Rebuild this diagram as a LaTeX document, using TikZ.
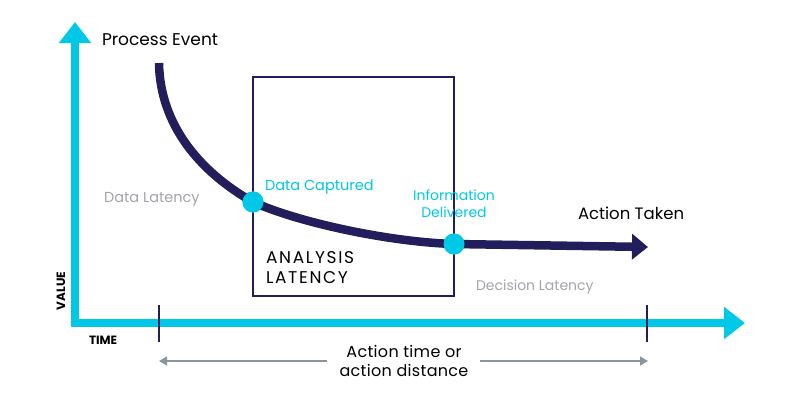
\documentclass[tikz,border=0pt]{standalone}
\usepackage{fontspec}
\setmainfont{Poppins}
\usetikzlibrary{arrows.meta}
\definecolor{cy}{HTML}{00C8E6}
\definecolor{navy}{HTML}{221E5B}
\definecolor{gtxt}{HTML}{A3A3AB}
\definecolor{garr}{HTML}{8A95A2}
\begin{document}
\begin{tikzpicture}[x=1pt,y=-1pt,
  lbl/.style={inner sep=0pt, outer sep=0pt},
  axis/.style={cy, line width=8pt, line join=miter},
  curve/.style={navy, line width=8.5pt},
  dot/.style={circle, fill=cy, minimum size=21pt, inner sep=0pt},
  tick/.style={navy, line width=1.2pt},
  garrow/.style={garr, line width=1.5pt, -{Triangle[length=8pt,width=9pt]}},
  boxline/.style={navy, line width=1.3pt}]
\useasboundingbox (0,0) rectangle (800,400);
% axes
\coordinate (ytop) at (75,22);
\coordinate (origin) at (75,323);
\coordinate (xend) at (745,323);
\draw[axis, {Triangle[length=21pt,width=31pt]}-{Triangle[length=21pt,width=31pt]}] (ytop) -- (origin) -- (xend);
% ticks
\coordinate (t1a) at (159,305); \coordinate (t1b) at (159,342);
\coordinate (t2a) at (647,305); \coordinate (t2b) at (647,342);
\draw[tick] (t1a) -- (t1b);
\draw[tick] (t2a) -- (t2b);
% box
\node[draw=navy, line width=1.3pt, minimum width=201pt, minimum height=219pt, inner sep=0pt] (box) at (353.5,186.5) {};
% curve
\coordinate (cstart) at (159,63);
\coordinate (cend) at (648,247);
\node[dot] (d1) at (253,202) {};
\node[dot] (d2) at (454,244) {};
\draw[curve, -{Triangle[length=16pt,width=25pt]}] (cstart) .. controls (160,125) and (200,172) .. (d1.center)
  .. controls (300,223) and (390,242) .. (d2.center) -- (cend);
\node[dot] at (d1) {};
\node[dot] at (d2) {};
% labels
\node[lbl, anchor=base west, font=\fontsize{17}{20}\selectfont] (pe) at (102,45) {Process Event};
\node[lbl, anchor=base west, text=gtxt, font=\fontsize{14.5}{17}\selectfont] (dl) at (104,202) {Data Latency};
\node[lbl, anchor=base west, text=cy, font=\fontsize{14.5}{17}\selectfont] (dc) at (265,190) {Data Captured};
\node[lbl, align=center, text=cy, font=\fontsize{14}{17}\selectfont] (id) at (454,204) {Information\\Delivered};
\node[lbl, anchor=base west, font=\fontsize{16.5}{20}\selectfont] (at) at (578,219) {Action Taken};
\node[lbl, anchor=west, align=left, font=\fontsize{17}{20}\selectfont\addfontfeatures{LetterSpace=10}] (al) at (266,267.5) {ANALYSIS\\LATENCY};
\node[lbl, anchor=base west, text=gtxt, font=\fontsize{14}{17}\selectfont] (decl) at (476,290) {Decision Latency};
\node[lbl, anchor=base west, font=\bfseries\fontsize{12}{14}\selectfont] (time) at (89,344) {TIME};
\node[lbl, anchor=base west, rotate=90, font=\bfseries\fontsize{12}{14}\selectfont] (value) at (65,310) {VALUE};
\node[lbl, align=center, font=\fontsize{16}{19}\selectfont\addfontfeatures{LetterSpace=2}] (atd) at (404,361) {Action time or\\action distance};
% gray arrows
\coordinate (gl) at (159,361);
\coordinate (gr) at (648,361);
\coordinate (gls) at (327,361);
\coordinate (grs) at (480,361);
\draw[garrow] (gls) -- (gl);
\draw[garrow] (grs) -- (gr);
\end{tikzpicture}
\end{document}
